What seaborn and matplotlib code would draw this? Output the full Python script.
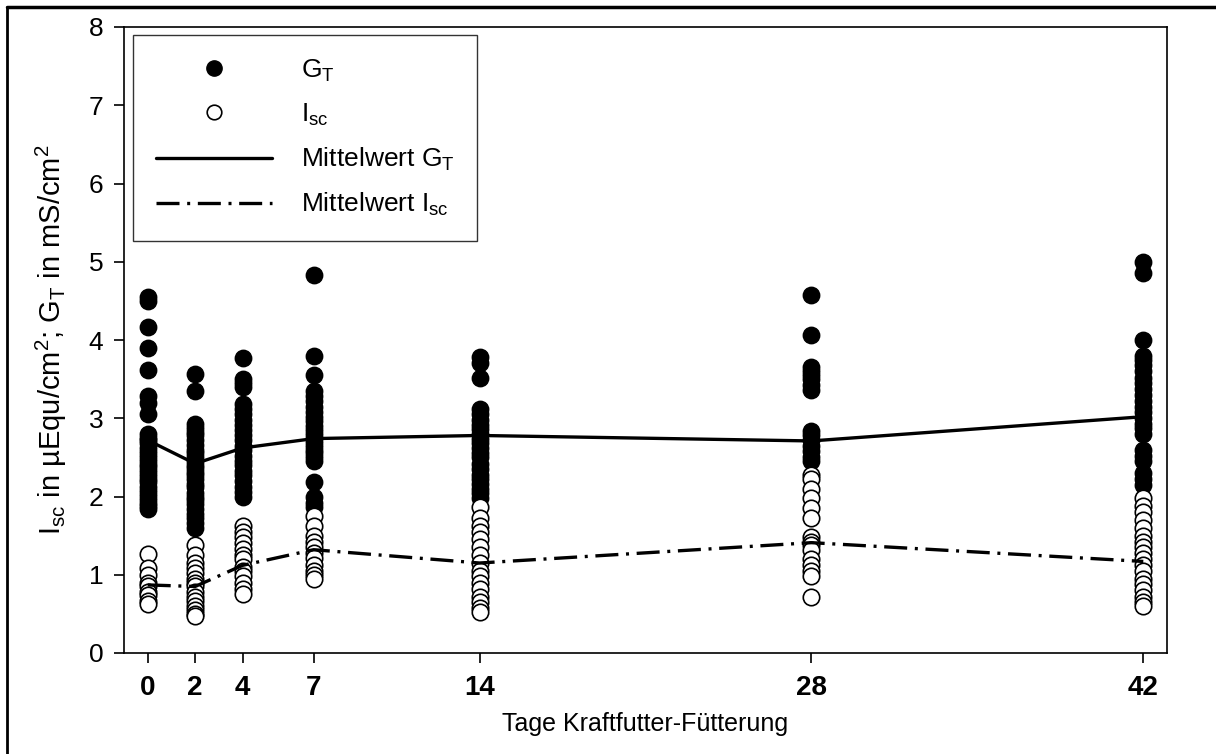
import numpy as np
import pandas as pd
import matplotlib
matplotlib.use("Agg")
import matplotlib.pyplot as plt
import seaborn as sns
from matplotlib.lines import Line2D

# ---------------- data ----------------
days = [0, 2, 4, 7, 14, 28, 42]

gt_d0 = [4.55, 4.5, 4.17, 3.9, 3.62, 3.28, 3.2, 3.05, 2.8, 2.75, 2.72, 2.68, 2.62, 2.57, 2.52,
         2.47, 2.42, 2.38, 2.33, 2.28, 2.22, 2.18, 2.12, 2.07, 2.02, 1.97, 1.92, 1.88, 1.84]
gt_d2 = [3.56, 3.35, 2.93, 2.88, 2.82, 2.78, 2.72, 2.66, 2.6, 2.55, 2.5, 2.45, 2.4, 2.36, 2.31,
         2.27, 2.22, 2.16, 2.12, 2.05, 2.0, 1.95, 1.9, 1.84, 1.78, 1.72, 1.66, 1.6]
gt_d4 = [3.77, 3.5, 3.45, 3.4, 3.18, 3.12, 3.05, 2.98, 2.92, 2.85, 2.78, 2.72, 2.65, 2.6, 2.52,
         2.45, 2.4, 2.33, 2.27, 2.2, 2.12, 2.06, 2.0]
gt_d7 = [4.83, 3.8, 3.55, 3.35, 3.28, 3.22, 3.15, 3.08, 3.02, 2.96, 2.9, 2.85, 2.8, 2.75, 2.7,
         2.65, 2.6, 2.55, 2.5, 2.45, 2.18, 2.0, 1.92, 1.87]
gt_d14 = [3.78, 3.7, 3.52, 3.12, 3.05, 2.98, 2.92, 2.86, 2.8, 2.74, 2.68, 2.62, 2.56, 2.5, 2.42,
          2.35, 2.28, 2.22, 2.16, 2.1, 2.04, 1.98]
gt_d28 = [4.57, 4.07, 3.65, 3.6, 3.55, 3.5, 3.42, 3.36, 2.84, 2.78, 2.72, 2.65, 2.58, 2.5, 2.45]
gt_d42 = [5.0, 4.85, 4.0, 3.8, 3.75, 3.68, 3.6, 3.52, 3.45, 3.38, 3.3, 3.22, 3.15, 3.08, 3.0,
          2.93, 2.87, 2.8, 2.6, 2.52, 2.45, 2.3, 2.22, 2.15]

isc_d0 = [1.26, 1.08, 1.0, 0.9, 0.85, 0.78, 0.74, 0.66, 0.62]
isc_d2 = [1.38, 1.25, 1.15, 1.08, 1.02, 0.95, 0.9, 0.85, 0.78, 0.72, 0.66, 0.6, 0.55, 0.5, 0.47]
isc_d4 = [1.62, 1.55, 1.48, 1.4, 1.33, 1.25, 1.2, 1.1, 1.05, 0.98, 0.9, 0.82, 0.75]
isc_d7 = [1.75, 1.62, 1.5, 1.42, 1.35, 1.28, 1.22, 1.12, 1.05, 1.0, 0.95]
isc_d14 = [1.86, 1.72, 1.62, 1.55, 1.46, 1.35, 1.25, 1.15, 1.05, 0.98, 0.9, 0.82, 0.72, 0.65,
           0.58, 0.52]
isc_d28 = [2.28, 2.22, 2.1, 1.98, 1.85, 1.72, 1.48, 1.42, 1.38, 1.32, 1.2, 1.12, 1.05, 0.98, 0.72]
isc_d42 = [1.98, 1.88, 1.8, 1.7, 1.6, 1.5, 1.42, 1.35, 1.28, 1.2, 1.12, 1.05, 0.95, 0.88, 0.8,
           0.72, 0.65, 0.6]

mean_gt = [2.72, 2.42, 2.62, 2.74, 2.78, 2.71, 3.02]
mean_isc = [0.87, 0.85, 1.12, 1.32, 1.15, 1.41, 1.17]

xlabel = "Tage Kraftfutter-Fütterung"
ylabel = r"I$_{\mathrm{sc}}$ in µEqu/cm$^2$; G$_\mathrm{T}$ in mS/cm$^2$"
legend_labels = [r"G$_\mathrm{T}$", r"I$_\mathrm{sc}$", r"Mittelwert G$_\mathrm{T}$",
                 r"Mittelwert I$_\mathrm{sc}$"]

# ---------------- build frames ----------------
gt_lists = [gt_d0, gt_d2, gt_d4, gt_d7, gt_d14, gt_d28, gt_d42]
isc_lists = [isc_d0, isc_d2, isc_d4, isc_d7, isc_d14, isc_d28, isc_d42]
gt_df = pd.DataFrame([(d, v) for d, vals in zip(days, gt_lists) for v in vals], columns=["day", "val"])
isc_df = pd.DataFrame([(d, v) for d, vals in zip(days, isc_lists) for v in vals], columns=["day", "val"])
mean_df = pd.DataFrame({"day": days, "gt": mean_gt, "isc": mean_isc})

# ---------------- style ----------------
sns.set_style("white")
plt.rcParams["font.family"] = ["Liberation Sans", "DejaVu Sans"]
plt.rcParams["mathtext.fontset"] = "custom"
plt.rcParams["mathtext.rm"] = "Liberation Sans"
plt.rcParams["mathtext.it"] = "Liberation Sans:italic"
plt.rcParams["mathtext.bf"] = "Liberation Sans:bold"
for key in ["text.color", "axes.labelcolor", "xtick.color", "ytick.color", "axes.edgecolor"]:
    plt.rcParams[key] = "black"

fig = plt.figure(figsize=(12.16, 7.54), dpi=100)
ax = fig.add_axes([124 / 1216, 1 - 653 / 754, (1167 - 124) / 1216, (653 - 27) / 754])

ms = 140
sns.scatterplot(data=gt_df, x="day", y="val", ax=ax, s=ms, color="black", edgecolor="black",
                linewidth=1.0, zorder=3, legend=False)
sns.scatterplot(data=isc_df, x="day", y="val", ax=ax, s=ms, color="white", edgecolor="black",
                linewidth=1.2, zorder=4, legend=False)
dash_pat = [6.9, 2.3, 0.9, 2.3]
sns.lineplot(data=mean_df, x="day", y="gt", ax=ax, color="black", lw=2.4, zorder=5)
sns.lineplot(data=mean_df, x="day", y="isc", ax=ax, color="black", lw=2.4, zorder=5,
             dashes=False)
ax.lines[-1].set_dashes(dash_pat)

ax.set_xlim(-1, 43)
ax.set_ylim(0, 8)
ax.set_xticks(days)
ax.set_xticklabels([str(d) for d in days], fontsize=20, fontweight="bold")
ax.set_yticks(range(0, 9))
ax.set_yticklabels([str(i) for i in range(0, 9)], fontsize=19)
ax.tick_params(axis="both", direction="out", length=7, width=1.2, color="black",
               bottom=True, left=True, top=False, right=False)
ax.tick_params(axis="x", pad=9)
ax.tick_params(axis="y", pad=8)
for sp in ax.spines.values():
    sp.set_visible(True)
    sp.set_color("black")
    sp.set_linewidth(1.2)

ax.set_xlabel(xlabel, fontsize=18, labelpad=8)
ax.set_ylabel(ylabel, fontsize=21, labelpad=14)

handles = [
    Line2D([], [], marker="o", linestyle="none", markerfacecolor="black", markeredgecolor="black",
           markersize=11),
    Line2D([], [], marker="o", linestyle="none", markerfacecolor="white", markeredgecolor="black",
           markersize=10.5, markeredgewidth=1.2),
    Line2D([], [], color="black", lw=2.4),
    Line2D([], [], color="black", lw=2.4, dashes=dash_pat),
]
leg = ax.legend(handles, legend_labels, loc="upper left", bbox_to_anchor=(0.009, 0.987),
                fontsize=19, frameon=True, fancybox=False, shadow=False, handlelength=4.4,
                handletextpad=1.1, labelspacing=0.68, borderpad=0.85, borderaxespad=0)
leg.get_frame().set_edgecolor("black")
leg.get_frame().set_linewidth(1.0)

# outer figure frame (left and top edges)
fig.add_artist(Line2D([7 / 1216, 7 / 1216], [0, 1 - 7 / 754], transform=fig.transFigure,
                      color="black", lw=2.0))
fig.add_artist(Line2D([7 / 1216, 1], [1 - 7 / 754, 1 - 7 / 754], transform=fig.transFigure,
                      color="black", lw=2.5))

fig.savefig("out.png", dpi=100)
